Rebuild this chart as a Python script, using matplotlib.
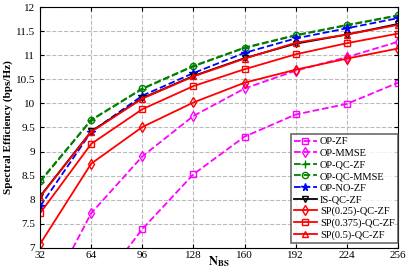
import numpy as np
import matplotlib
matplotlib.use('Agg')
import matplotlib.pyplot as plt

plt.rcParams['font.family'] = ['Liberation Serif', 'DejaVu Serif']
plt.rcParams['mathtext.fontset'] = 'stix'

# number of BS antennas
n_bs = [32, 64, 96, 128, 160, 192, 224, 256]

# spectral efficiency per scheme (values below 7 are off the plot)
op_zf = [4.6, 6.0, 7.39, 8.53, 9.31, 9.77, 9.99, 10.43]
op_mmse = [5.7, 7.72, 8.9, 9.74, 10.31, 10.68, 10.96, 11.28]
op_qc_zf = [8.37, 9.65, 10.30, 10.77, 11.15, 11.41, 11.62, 11.82]
op_qc_mmse = [8.39, 9.66, 10.31, 10.78, 11.16, 11.42, 11.63, 11.83]
op_no_zf = [7.86, 9.41, 10.16, 10.63, 11.05, 11.35, 11.56, 11.77]
is_qc_zf = [8.07, 9.42, 10.11, 10.57, 10.94, 11.24, 11.43, 11.65]
sp025 = [7.08, 8.75, 9.51, 10.02, 10.43, 10.70, 10.93, 11.14]
sp0375 = [7.72, 9.16, 9.88, 10.36, 10.71, 11.02, 11.25, 11.45]
sp05 = [8.06, 9.41, 10.10, 10.56, 10.93, 11.26, 11.43, 11.63]

fig, ax = plt.subplots(figsize=(4.09, 2.73), dpi=100)
fig.subplots_adjust(left=0.098, right=0.973, bottom=0.092, top=0.974)

ms = 4.5
lw = 1.3
ax.plot(n_bs, op_zf, '--', color='#FF00FF', marker='s', mfc='none', ms=ms, lw=lw, label='OP-ZF')
ax.plot(n_bs, op_mmse, '--', color='#FF00FF', marker='d', mfc='none', ms=ms + 1, lw=lw, label='OP-MMSE')
ax.plot(n_bs, op_qc_zf, '--', color='#008000', marker='+', ms=ms + 1, lw=lw, label='OP-QC-ZF')
ax.plot(n_bs, op_qc_mmse, '--', color='#008000', marker='o', mfc='none', ms=ms, lw=lw, label='OP-QC-MMSE')
ax.plot(n_bs, op_no_zf, '--', color='#0000FF', marker='*', ms=ms + 1, lw=lw, label='OP-NO-ZF')
ax.plot(n_bs, is_qc_zf, '-', color='black', marker='v', mfc='none', ms=ms, lw=lw, label='IS-QC-ZF')
ax.plot(n_bs, sp025, '-', color='#FF0000', marker='d', mfc='none', ms=ms + 1, lw=lw, label='SP(0.25)-QC-ZF')
ax.plot(n_bs, sp0375, '-', color='#FF0000', marker='s', mfc='none', ms=ms, lw=lw, label='SP(0.375)-QC-ZF')
ax.plot(n_bs, sp05, '-', color='#FF0000', marker='^', mfc='none', ms=ms, lw=lw, label='SP(0.5)-QC-ZF')

ax.set_xlim(32, 256)
ax.set_ylim(7, 12)
ax.set_xticks(n_bs)
yt = np.arange(7, 12.01, 0.5)
ax.set_yticks(yt)
ax.set_yticklabels(['%g' % v for v in yt])
ax.tick_params(direction='in', top=True, right=True, labelsize=8, length=3)
ax.tick_params(axis='x', pad=2)
ax.grid(True, linestyle='--', color='#BBBBBB', lw=0.8)
ax.set_axisbelow(True)

ax.set_xlabel(r'$\mathbf{N}_{\mathbf{BS}}$', fontsize=9, labelpad=-4)
ax.set_ylabel('Spectral Efficiency (bps/Hz)', fontsize=8, fontweight='bold', labelpad=2)

leg = ax.legend(loc='lower right', bbox_to_anchor=(1.0, 0.02), fontsize=7.5,
                borderaxespad=0, labelspacing=0.22, handlelength=2.2,
                handletextpad=0.3, borderpad=0.3, fancybox=False)
leg.get_frame().set_edgecolor('#444444')
leg.get_frame().set_linewidth(1.2)

plt.savefig('out.png', dpi=100)
